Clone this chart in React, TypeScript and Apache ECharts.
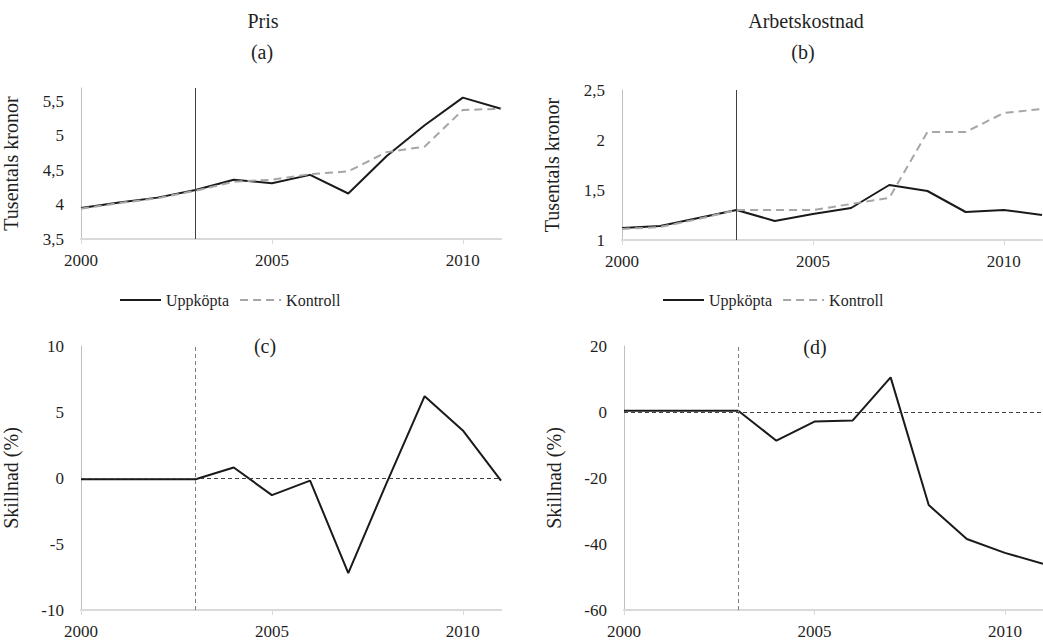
import React, { useEffect, useRef } from 'react';
import * as echarts from 'echarts';

const years = ['2000', '2001', '2002', '2003', '2004', '2005', '2006', '2007', '2008', '2009', '2010', '2011'];
const treatmentYear = '2003';

const prisUppkopta = [3.95, 4.03, 4.1, 4.21, 4.36, 4.31, 4.43, 4.16, 4.7, 5.15, 5.55, 5.39];
const prisKontroll = [3.94, 4.02, 4.09, 4.2, 4.33, 4.36, 4.44, 4.48, 4.76, 4.84, 5.37, 5.39];

const arbUppkopta = [1.12, 1.14, 1.22, 1.3, 1.19, 1.26, 1.32, 1.55, 1.49, 1.28, 1.3, 1.25];
const arbKontroll = [1.11, 1.13, 1.21, 1.3, 1.3, 1.3, 1.36, 1.42, 2.08, 2.08, 2.27, 2.31];

const skillnadPris = [-0.1, -0.1, -0.1, -0.1, 0.8, -1.3, -0.2, -7.2, -0.4, 6.2, 3.6, -0.2];
const skillnadArb = [0.4, 0.4, 0.4, 0.4, -8.7, -2.9, -2.6, 10.5, -28.2, -38.5, -42.7, -46.0];

const legendNames = ['Uppköpta', 'Kontroll'];
const titles = ['Pris', '(a)', 'Arbetskostnad', '(b)', '(c)', '(d)'];

const FONT = 'Liberation Serif, serif';
const TXT = '#1f1f1f';

function makeX(gridIndex: number) {
  return {
    type: 'category',
    gridIndex,
    data: years,
    boundaryGap: false,
    axisLine: { show: true, onZero: false, lineStyle: { color: '#d9d9d9', width: 2 } },
    axisTick: { show: true, interval: 4, length: 5, lineStyle: { color: '#d9d9d9', width: 1 } },
    axisLabel: {
      interval: 4, margin: 13, color: TXT,
      textStyle: undefined,
      fontFamily: FONT, fontSize: 17,
      rich: {},
    },
    splitLine: { show: false },
  };
}

function makeY(gridIndex: number, min: number, max: number, interval: number, name: string, hideMax: boolean) {
  return {
    type: 'value',
    gridIndex,
    min,
    max,
    interval,
    name,
    nameLocation: 'middle',
    nameGap: 60,
    nameTextStyle: { fontSize: 20, fontFamily: FONT, color: TXT, fontStyle: 'normal', fontWeight: 'normal' },
    axisLine: { show: true, onZero: false, lineStyle: { color: '#bfbfbf', width: 1 } },
    axisTick: { show: false },
    splitLine: { show: false },
    axisLabel: {
      margin: 17,
      fontSize: 17,
      fontFamily: FONT,
      fontStyle: 'normal',
      fontWeight: 'normal',
      color: TXT,
      showMaxLabel: !hideMax,
      formatter: (v: number) => String(v).replace('.', ','),
    },
  };
}

const solidLine = { color: '#1a1a1a', width: 2 };
const dashedGray = { color: '#a6a6a6', width: 2, type: [8, 5] };

function vLineSolid() {
  return {
    silent: true,
    symbol: 'none',
    label: { show: false },
    lineStyle: { color: '#404040', width: 1, type: 'solid' },
    data: [{ xAxis: treatmentYear }],
  };
}

function diffMarks() {
  return {
    silent: true,
    symbol: 'none',
    label: { show: false },
    data: [
      { xAxis: treatmentYear, lineStyle: { color: '#7f7f7f', width: 1, type: [4, 3] } },
      { yAxis: 0, lineStyle: { color: '#404040', width: 1, type: [4, 3] } },
    ],
  };
}

function titleText(text: string, x: number, y: number) {
  return {
    type: 'text',
    x,
    y,
    style: {
      text,
      fontSize: 20,
      fontFamily: FONT,
      fill: TXT,
      align: 'center',
      verticalAlign: 'middle',
    },
  };
}

function makeLegend(left: number) {
  return {
    left,
    top: 287,
    itemWidth: 41,
    itemHeight: 14,
    itemGap: 10,
    data: legendNames,
    itemStyle: { opacity: 0 },
    textStyle: { fontSize: 16, fontFamily: FONT, fontStyle: 'normal', fontWeight: 'normal', color: TXT },
  };
}

const option = {
  animation: false,
  backgroundColor: '#ffffff',
  textStyle: { fontFamily: FONT, fontStyle: 'normal', fontWeight: 'normal' },
  grid: [
    { left: 80, top: 88, width: 421, height: 151 },
    { left: 622, top: 90, width: 420, height: 150 },
    { left: 81, top: 346, width: 420, height: 265 },
    { left: 624, top: 346, width: 419, height: 265 },
  ],
  xAxis: [makeX(0), makeX(1), makeX(2), makeX(3)],
  yAxis: [
    makeY(0, 3.5, 5.69, 0.5, 'Tusentals kronor', true),
    makeY(1, 1, 2.5, 0.5, 'Tusentals kronor', false),
    makeY(2, -10, 10, 5, 'Skillnad (%)', false),
    makeY(3, -60, 20, 20, 'Skillnad (%)', false),
  ],
  legend: [makeLegend(114), makeLegend(657)],
  graphic: [
    titleText(titles[0], 263, 21),
    titleText(titles[1], 262, 52),
    titleText(titles[2], 806, 21),
    titleText(titles[3], 803, 52),
    titleText(titles[4], 265, 346),
    titleText(titles[5], 815, 347),
  ],
  series: [
    {
      type: 'line', name: 'Uppköpta', xAxisIndex: 0, yAxisIndex: 0, data: prisUppkopta,
      symbol: 'none', lineStyle: solidLine, itemStyle: { color: '#1a1a1a' }, markLine: vLineSolid(),
    },
    {
      type: 'line', name: 'Kontroll', xAxisIndex: 0, yAxisIndex: 0, data: prisKontroll,
      symbol: 'none', lineStyle: dashedGray, itemStyle: { color: '#a6a6a6' },
    },
    {
      type: 'line', name: 'Uppköpta', xAxisIndex: 1, yAxisIndex: 1, data: arbUppkopta,
      symbol: 'none', lineStyle: solidLine, itemStyle: { color: '#1a1a1a' }, markLine: vLineSolid(),
    },
    {
      type: 'line', name: 'Kontroll', xAxisIndex: 1, yAxisIndex: 1, data: arbKontroll,
      symbol: 'none', lineStyle: dashedGray, itemStyle: { color: '#a6a6a6' },
    },
    {
      type: 'line', name: 'Skillnad pris', xAxisIndex: 2, yAxisIndex: 2, data: skillnadPris,
      symbol: 'none', lineStyle: solidLine, itemStyle: { color: '#1a1a1a' }, markLine: diffMarks(),
    },
    {
      type: 'line', name: 'Skillnad arbetskostnad', xAxisIndex: 3, yAxisIndex: 3, data: skillnadArb,
      symbol: 'none', lineStyle: solidLine, itemStyle: { color: '#1a1a1a' }, markLine: diffMarks(),
    },
  ],
};

export default function App() {
  const ref = useRef<HTMLDivElement>(null);
  useEffect(() => {
    if (!ref.current) return;
    const chart = echarts.init(ref.current, null, { renderer: 'svg' });
    chart.setOption(option as any);
    return () => {
      chart.dispose();
    };
  }, []);
  return (
    <div
      ref={ref}
      style={{ position: 'fixed', left: 0, top: 0, width: 1043, height: 640, background: '#ffffff', fontFamily: 'Liberation Serif, serif' }}
    />
  );
}
